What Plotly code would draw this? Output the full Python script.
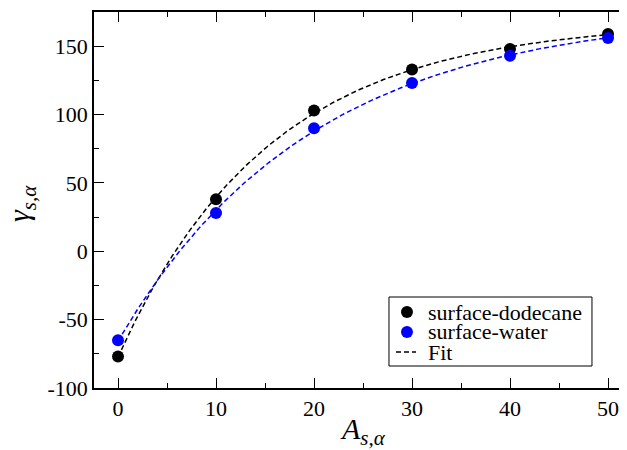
import numpy as np
import plotly.graph_objects as go

# Data
area = [0, 10, 20, 30, 40, 50]
gamma_dodecane = [-77, 38, 103, 133, 148, 159]
gamma_water = [-65, 28, 90, 123, 143, 156]

y_tickvals = [-100, -50, 0, 50, 100, 150]
y_ticktext = ["-100", "-50", "0", "50", "100", "150"]
x_tickvals = [0, 10, 20, 30, 40, 50]
x_ticktext = ["0", "10", "20", "30", "40", "50"]

legend_names = ["surface-dodecane", "surface-water", "Fit"]
legend_colors = ["black", "blue", "black"]


def exp_fit(x, y):
    """Least-squares fit of y = a - b*exp(-x/c)."""
    x = np.asarray(x, float)
    y = np.asarray(y, float)
    best = None
    for c in np.linspace(3, 60, 2000):
        A = np.column_stack([np.ones_like(x), -np.exp(-x / c)])
        coef, *_ = np.linalg.lstsq(A, y, rcond=None)
        r = np.sum((A @ coef - y) ** 2)
        if best is None or r < best[0]:
            best = (r, coef[0], coef[1], c)
    _, a, b, c = best
    xf = np.linspace(min(x), max(x), 300)
    return xf, a - b * np.exp(-xf / c)


FONT = "Liberation Serif"
DASH = "5px,3px"

fig = go.Figure()

xf, yf = exp_fit(area, gamma_dodecane)
fig.add_trace(go.Scatter(x=xf, y=yf, mode="lines", line=dict(color="black", width=1.5, dash=DASH),
                         showlegend=False, hoverinfo="skip"))
xf, yf = exp_fit(area, gamma_water)
fig.add_trace(go.Scatter(x=xf, y=yf, mode="lines", line=dict(color="blue", width=1.5, dash=DASH),
                         showlegend=False, hoverinfo="skip"))

fig.add_trace(go.Scatter(x=area, y=gamma_dodecane, mode="markers", name=legend_names[0],
                         marker=dict(color="black", size=12), showlegend=False))
fig.add_trace(go.Scatter(x=area, y=gamma_water, mode="markers", name=legend_names[1],
                         marker=dict(color="blue", size=12), showlegend=False))

axis_common = dict(
    showline=True, linecolor="black", linewidth=1.5,
    ticks="inside", ticklen=10, tickwidth=1, tickcolor="black",
    showgrid=False, zeroline=False, mirror="allticks", automargin=False,
    tickfont=dict(family=FONT, size=22, color="black"),
)

fig.update_xaxes(
    **axis_common,
    range=[-2.45, 52.14],
    tickmode="array", tickvals=x_tickvals, ticktext=x_ticktext,
    minor=dict(ticks="inside", ticklen=5, dtick=5, tick0=0, tickcolor="black", showgrid=False),
)
fig.update_yaxes(
    **axis_common,
    range=[-100, 175],
    tickmode="array", tickvals=y_tickvals, ticktext=y_ticktext,
    minor=dict(ticks="inside", ticklen=5, dtick=25, tick0=0, tickcolor="black", showgrid=False),
)

# Axis titles
fig.add_annotation(text="<i>A</i><sub><i>s,α</i></sub>", xref="paper", yref="paper",
                   x=0.502, y=-0.114, xanchor="center", yanchor="middle", showarrow=False,
                   font=dict(family=FONT, size=30, color="black"))
fig.add_annotation(text="<i>γ</i><sub><i>s,α</i></sub>", xref="paper", yref="paper",
                   x=-0.136, y=0.49, xanchor="center", yanchor="middle", showarrow=False, textangle=-90,
                   font=dict(family=FONT, size=30, color="black"))

# Custom legend (box, symbols, labels)
L_X0, L_X1, L_Y0, L_Y1 = 0.5514, 0.9308, 0.0585, 0.242
row_y = [0.202, 0.149, 0.0957]
fig.add_shape(type="rect", xref="paper", yref="paper", x0=L_X0, x1=L_X1, y0=L_Y0, y1=L_Y1,
              line=dict(color="black", width=1), fillcolor="white", layer="above")
for i, (name, col) in enumerate(zip(legend_names, legend_colors)):
    if name == "Fit":
        fig.add_shape(type="line", xref="paper", yref="paper", x0=0.5645, x1=0.6019,
                      y0=row_y[i], y1=row_y[i], line=dict(color=col, width=1.5, dash=DASH), layer="above")
    else:
        fig.add_shape(type="circle", xref="paper", yref="paper", xsizemode="pixel", ysizemode="pixel",
                      xanchor=0.585, yanchor=row_y[i], x0=-6, x1=6, y0=-6, y1=6,
                      line=dict(color=col, width=0), fillcolor=col, layer="above")
    fig.add_annotation(text=name, xref="paper", yref="paper", x=0.621, y=row_y[i],
                       xanchor="left", yanchor="middle", showarrow=False,
                       font=dict(family=FONT, size=22, color="black"))

fig.update_layout(
    width=621, height=442,
    margin=dict(l=86, r=0, t=4, b=62),
    plot_bgcolor="white", paper_bgcolor="white",
    font=dict(family=FONT, color="black"),
    showlegend=False,
)

fig.write_html("out.html")
